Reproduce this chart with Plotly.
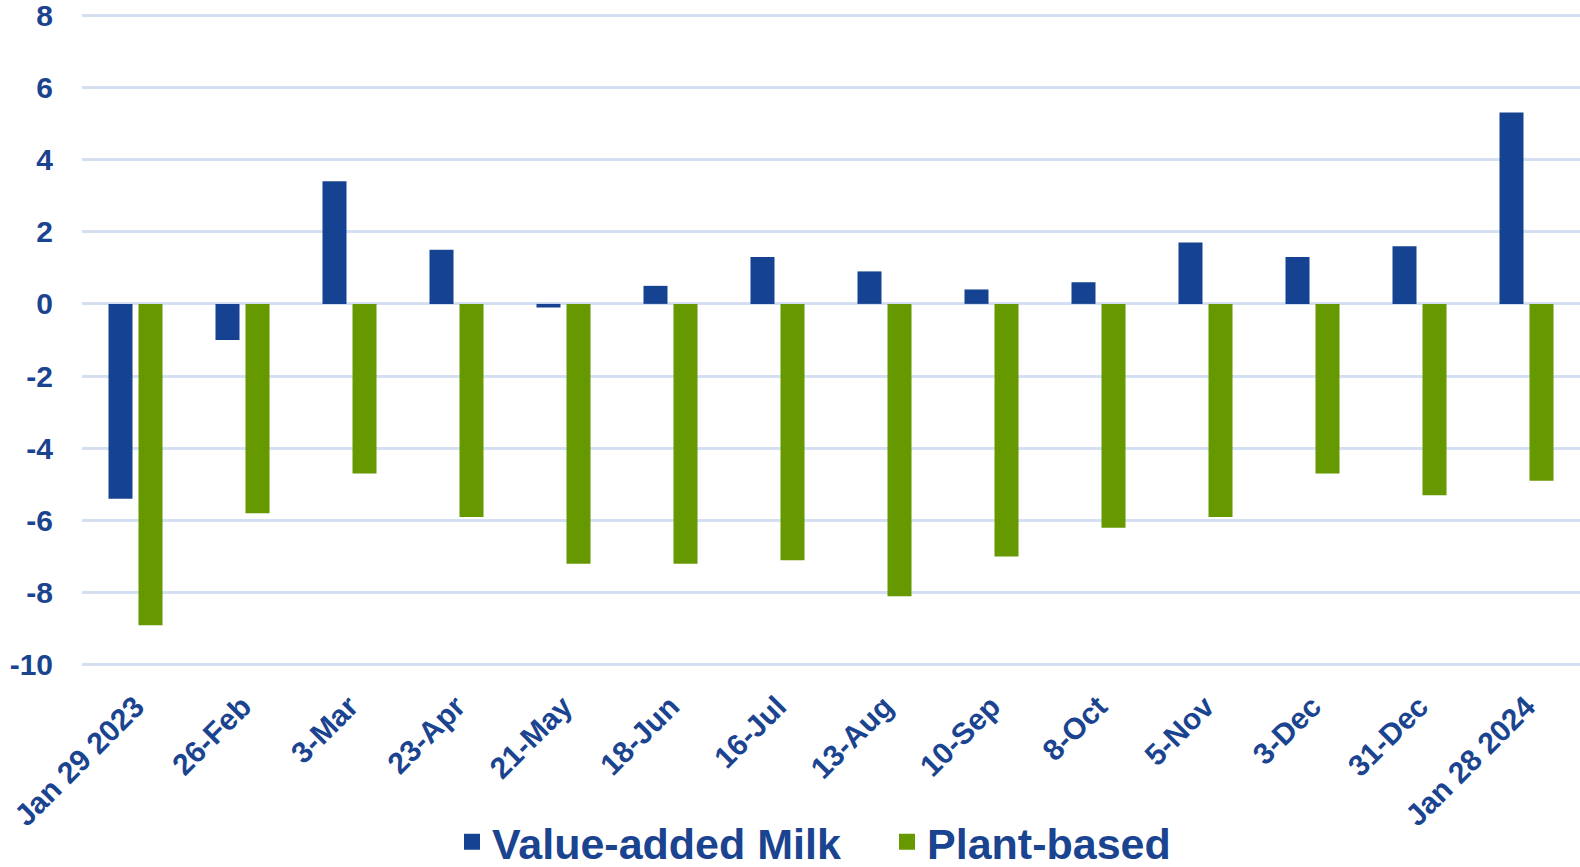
import plotly.graph_objects as go

weeks = ["Jan 29 2023", "26-Feb", "3-Mar", "23-Apr", "21-May", "18-Jun", "16-Jul",
         "13-Aug", "10-Sep", "8-Oct", "5-Nov", "3-Dec", "31-Dec", "Jan 28 2024"]
value_added_milk = [-5.4, -1.0, 3.4, 1.5, -0.1, 0.5, 1.3, 0.9, 0.4, 0.6, 1.7, 1.3, 1.6, 5.3]
plant_based = [-8.9, -5.8, -4.7, -5.9, -7.2, -7.2, -7.1, -8.1, -7.0, -6.2, -5.9, -4.7, -5.3, -4.9]
y_ticks = [8, 6, 4, 2, 0, -2, -4, -6, -8, -10]
series_names = ["Value-added Milk", "Plant-based"]

BLUE = "#164391"
GREEN = "#669900"
TEXT = "#1A448F"
GRID = "#D4DFF4"
FONT = "Liberation Sans, Arial, sans-serif"

fig = go.Figure()
for name, vals, col in zip(series_names, [value_added_milk, plant_based], [BLUE, GREEN]):
    fig.add_trace(go.Bar(x=weeks, y=vals, name=name, showlegend=False,
                         marker=dict(color=col, line=dict(width=0))))
# legend entries with larger square swatches
for name, col in zip(series_names, [BLUE, GREEN]):
    fig.add_trace(go.Scatter(x=[None], y=[None], name=name, mode="markers",
                             marker=dict(symbol="square", size=22, color=col)))

fig.update_layout(
    width=1580, height=867,
    margin=dict(l=82, r=0, t=14, b=201),
    paper_bgcolor="white", plot_bgcolor="white",
    barmode="group", bargap=0.439, bargroupgap=0.2,
    font=dict(family=FONT, color=TEXT),
    showlegend=True,
    legend=dict(orientation="h", x=0.247, xanchor="left",
                yref="container", y=0.029, yanchor="middle",
                font=dict(size=43, family=FONT, color=TEXT, weight="bold"),
                itemwidth=30, traceorder="normal", entrywidth=390),
    xaxis=dict(tickangle=-45, tickfont=dict(size=30, weight="bold", color=TEXT),
               showgrid=False, showline=False, ticks="", automargin=False,
               ticklabelstandoff=16, ticklabeloverflow="allow"),
    yaxis=dict(range=[-10.03, 8.03], tickvals=y_ticks, ticktext=[str(v) for v in y_ticks],
               tickfont=dict(size=30, weight="bold", color=TEXT),
               showgrid=True, gridcolor=GRID, gridwidth=2.5,
               zeroline=True, zerolinecolor=GRID, zerolinewidth=2.5,
               ticklabelstandoff=28, showline=False, automargin=False,
               ticklabeloverflow="allow"),
)

fig.write_html("out.html")
